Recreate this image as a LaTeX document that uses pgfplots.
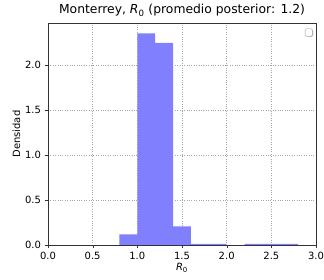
\documentclass[border=0pt]{standalone}
\usepackage{pgfplots}
\pgfplotsset{compat=1.18}
\usetikzlibrary{shadows}
\usepackage{fontspec}
\setmainfont{DejaVu Sans}
\definecolor{barc}{HTML}{8080FF}
\begin{document}
\begin{tikzpicture}
\useasboundingbox (0,0) rectangle (324bp,280bp);
\begin{axis}[
  at={(48bp,35bp)}, anchor=south west,
  scale only axis, width=268bp, height=222bp,
  xmin=0, xmax=3, ymin=0, ymax=2.47,
  xtick={0,0.5,...,3}, ytick={0,0.5,1,1.5,2},
  xticklabel style={/pgf/number format/.cd,fixed,fixed zerofill,precision=1,assume math mode=true},
  yticklabel style={/pgf/number format/.cd,fixed,fixed zerofill,precision=1,assume math mode=true},
  /pgf/number format/assume math mode=true,
  tick label style={font=\fontsize{10}{12}\selectfont},
  label style={font=\fontsize{10}{12}\selectfont},
  title style={font=\fontsize{12.4}{14}\selectfont, yshift=-3pt},
  title={Monterrey, \textit{R}\textsubscript{0} (promedio posterior: 1.2)},
  xlabel={\textit{R}\textsubscript{0}}, ylabel={Densidad},
  xlabel style={yshift=3pt}, ylabel style={yshift=-2pt},
  grid=major, grid style={gray!70, dotted},
  axis line style={black!80},
  tick align=outside, major tick length=3.5pt,
  tick style={black!80},
  xtick pos=bottom, ytick pos=left,
  legend style={at={(0.988,0.975)}, anchor=north east, draw=black!40, rounded corners=1.5pt, inner sep=0pt, fill=white,
    nodes={inner sep=0pt, minimum width=7.5bp, minimum height=7.5bp}, drop shadow={opacity=0.4, shadow xshift=0.8pt, shadow yshift=-0.8pt}},
]
\addplot[ybar interval, fill=barc, draw=none, forget plot] coordinates {
 (0.8,0.118) (1.0,2.355) (1.2,2.248) (1.4,0.207) (1.6,0.013) (1.8,0.013) (2.0,0) (2.2,0.013) (2.4,0.013) (2.6,0.013) (2.8,0.013)
};
\addlegendimage{empty legend}
\addlegendentry{}
\end{axis}
\end{tikzpicture}
\end{document}
